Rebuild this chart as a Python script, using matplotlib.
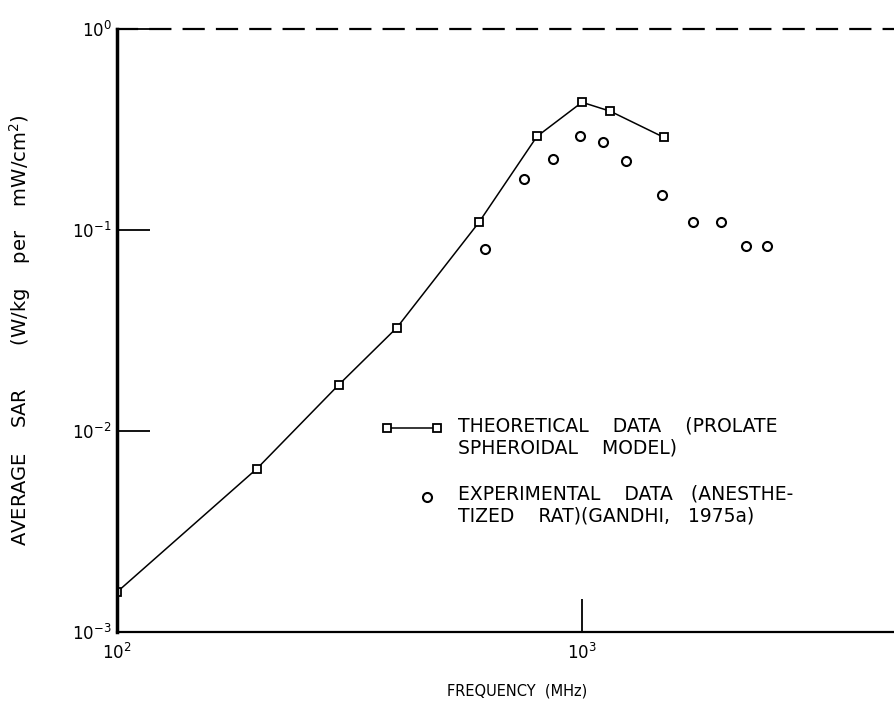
import numpy as np
import matplotlib.pyplot as plt
from matplotlib.legend_handler import HandlerLine2D

# Theoretical data (prolate spheroidal model)
theory_freq = [100, 200, 300, 400, 600, 800, 1000, 1150, 1500]
theory_sar = [0.00158, 0.0065, 0.0170, 0.0327, 0.109, 0.292, 0.432, 0.39, 0.289]

# Experimental data (anesthetized rat), Gandhi 1975a
exp_freq = [620, 750, 866, 990, 1110, 1245, 1486, 1734, 1990, 2254, 2500]
exp_sar = [0.080, 0.179, 0.225, 0.292, 0.273, 0.220, 0.149, 0.109, 0.109, 0.0837, 0.0837]

plt.rcParams['font.family'] = 'DejaVu Sans'


class TopLineHandler(HandlerLine2D):
    # legend symbol lined up with the first line of a two-line label
    def __init__(self, xfrac=None, lift=7, **kw):
        super().__init__(**kw)
        self.xfrac = xfrac
        self.lift = lift

    def get_xdata(self, legend, xdescent, ydescent, width, height, fontsize):
        if self.xfrac is None:
            return super().get_xdata(legend, xdescent, ydescent, width, height, fontsize)
        x = np.array([-xdescent + width * self.xfrac])
        return x, x

    def create_artists(self, legend, orig_handle, xdescent, ydescent,
                       width, height, fontsize, trans):
        arts = super().create_artists(legend, orig_handle, xdescent, ydescent,
                                      width, height, fontsize, trans)
        for a in arts:
            a.set_ydata(np.asarray(a.get_ydata()) + self.lift)
        return arts


fig = plt.figure(figsize=(8.94, 7.07), dpi=100)
ax = fig.add_axes([117 / 894, 75 / 707, 1 - 117 / 894, 603 / 707])

ax.set_xscale('log')
ax.set_yscale('log')
ax.set_xlim(100, 10 ** (2 + 777 / 465))
ax.set_ylim(1e-3, 1)

line, = ax.plot(theory_freq, theory_sar, color='black', lw=1.1, marker='s',
                ms=6, mfc='white', mec='black', mew=1.3,
                label='THEORETICAL    DATA    (PROLATE\nSPHEROIDAL    MODEL)')
pts, = ax.plot(exp_freq, exp_sar, ls='none', marker='o', ms=6.5,
               mfc='white', mec='black', mew=1.5,
               label='EXPERIMENTAL    DATA   (ANESTHE-\nTIZED    RAT)(GANDHI,   1975a)')

# spines
ax.spines['right'].set_visible(False)
ax.spines['left'].set_linewidth(2.5)
ax.spines['bottom'].set_linewidth(1.6)
ax.spines['top'].set_linewidth(1.6)
ax.spines['top'].set_linestyle((0, (9, 6)))

ax.set_xticks([1e2, 1e3])
ax.set_yticks([1e-3, 1e-2, 1e-1, 1e0])
ax.minorticks_off()
ax.tick_params(axis='both', which='major', direction='in', length=24,
               width=1.3, labelsize=12, top=False, right=False)
ax.tick_params(axis='x', pad=8)
ax.tick_params(axis='y', pad=4)

ax.set_xlabel('FREQUENCY  (MHz)', fontsize=10.5)
ax.xaxis.set_label_coords(0.515, -0.085)
ax.set_ylabel('AVERAGE    SAR       (W/kg    per    mW/cm$^2$)', fontsize=14)
ax.yaxis.set_label_coords(-0.108, 0.5)

ax.legend(handles=[line, pts], frameon=False, fontsize=13.5,
          loc='upper left', bbox_to_anchor=(0.318, 0.385),
          handlelength=3.3, handletextpad=0.8, labelspacing=1.45,
          numpoints=2,
          handler_map={line: TopLineHandler(numpoints=2),
                       pts: TopLineHandler(xfrac=0.74, numpoints=1)})

fig.savefig('out.png', dpi=100)
